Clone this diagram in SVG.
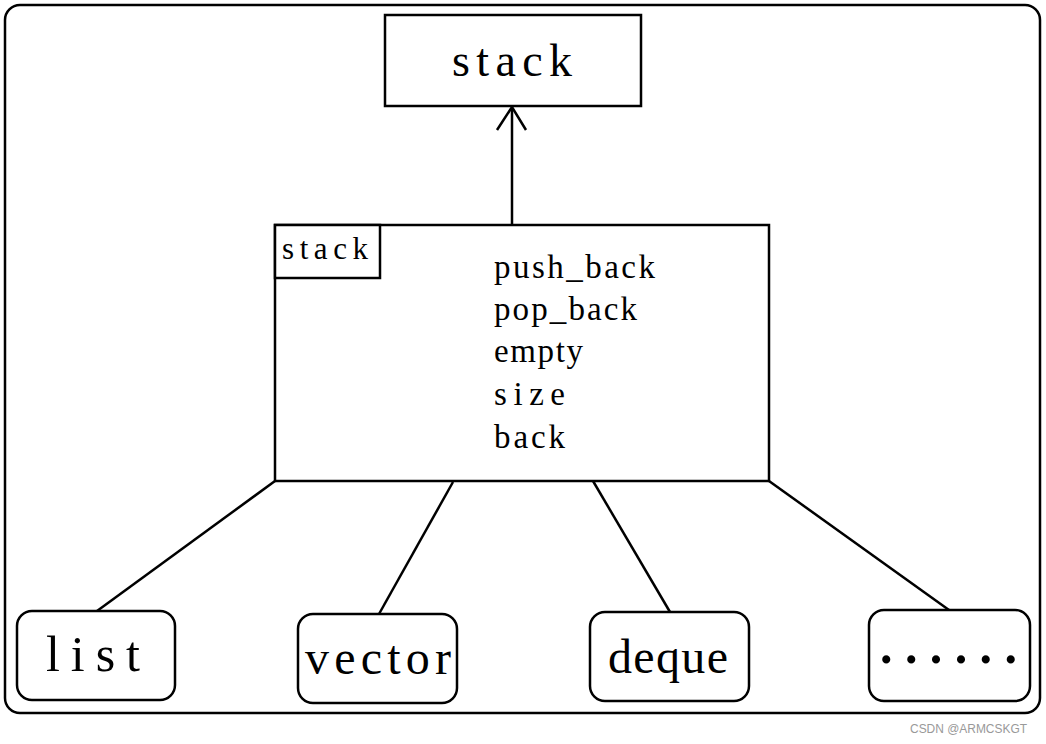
<svg xmlns="http://www.w3.org/2000/svg" width="1046" height="744" viewBox="0 0 1046 744">
<style>
.box{fill:#fff;stroke:#000;stroke-width:2.5}
.frame{fill:#fff;stroke:#000;stroke-width:2.5}
.t{font-family:"Liberation Serif","DejaVu Serif",serif;fill:#000}
.conn line,.conn polyline{stroke:#000;stroke-width:2.5;fill:none}
.wm{font-family:"Liberation Sans",Arial,sans-serif;font-size:12px;fill:#999}
</style>
<rect class="frame" x="5" y="5" width="1035" height="708" rx="15"/>
<g id="conn" class="conn">
<line x1="512" y1="225" x2="512" y2="108"/>
<polyline points="497,130 512,107 526,130"/>
<line x1="275" y1="481" x2="97" y2="611"/>
<line x1="453" y1="482" x2="379" y2="614"/>
<line x1="593" y1="481" x2="670" y2="612"/>
<line x1="769" y1="481" x2="949" y2="610"/>
</g>
<g id="stack-top">
<rect class="box" x="385" y="15" width="256" height="91"/>
<text class="t" x="452" y="76" font-size="46" textLength="120" lengthAdjust="spacing">stack</text>
</g>
<g id="stack-main">
<rect class="box" x="275" y="225" width="494" height="256"/>
<rect class="box" x="275" y="225" width="105" height="53"/>
<text class="t" x="282" y="259" font-size="31" textLength="86" lengthAdjust="spacing">stack</text>
<text class="t" x="494" y="278" font-size="33" textLength="161" lengthAdjust="spacing">push_back</text>
<text class="t" x="494" y="320" font-size="33" textLength="143" lengthAdjust="spacing">pop_back</text>
<text class="t" x="494" y="362" font-size="33" textLength="89" lengthAdjust="spacing">empty</text>
<text class="t" x="494" y="405" font-size="33" textLength="71" lengthAdjust="spacing">size</text>
<text class="t" x="494" y="448" font-size="33" textLength="71" lengthAdjust="spacing">back</text>
</g>
<g id="list">
<rect class="box" x="17" y="611" width="158" height="89" rx="15"/>
<text class="t" x="46" y="671" font-size="50" textLength="94" lengthAdjust="spacing">list</text>
</g>
<g id="vector">
<rect class="box" x="298" y="614" width="159" height="89" rx="15"/>
<text class="t" x="305" y="674" font-size="48" textLength="146" lengthAdjust="spacing">vector</text>
</g>
<g id="deque">
<rect class="box" x="590" y="612" width="159" height="89" rx="15"/>
<text class="t" x="608" y="673" font-size="48" textLength="120" lengthAdjust="spacing">deque</text>
</g>
<g id="more">
<rect class="box" x="869" y="610" width="161" height="91" rx="15"/>
<text class="t" x="880" y="663" font-size="50" font-weight="bold" textLength="137" lengthAdjust="spacing">......</text>
</g>
<text class="wm" x="910" y="733" textLength="117" lengthAdjust="spacingAndGlyphs">CSDN @ARMCSKGT</text>
</svg>
